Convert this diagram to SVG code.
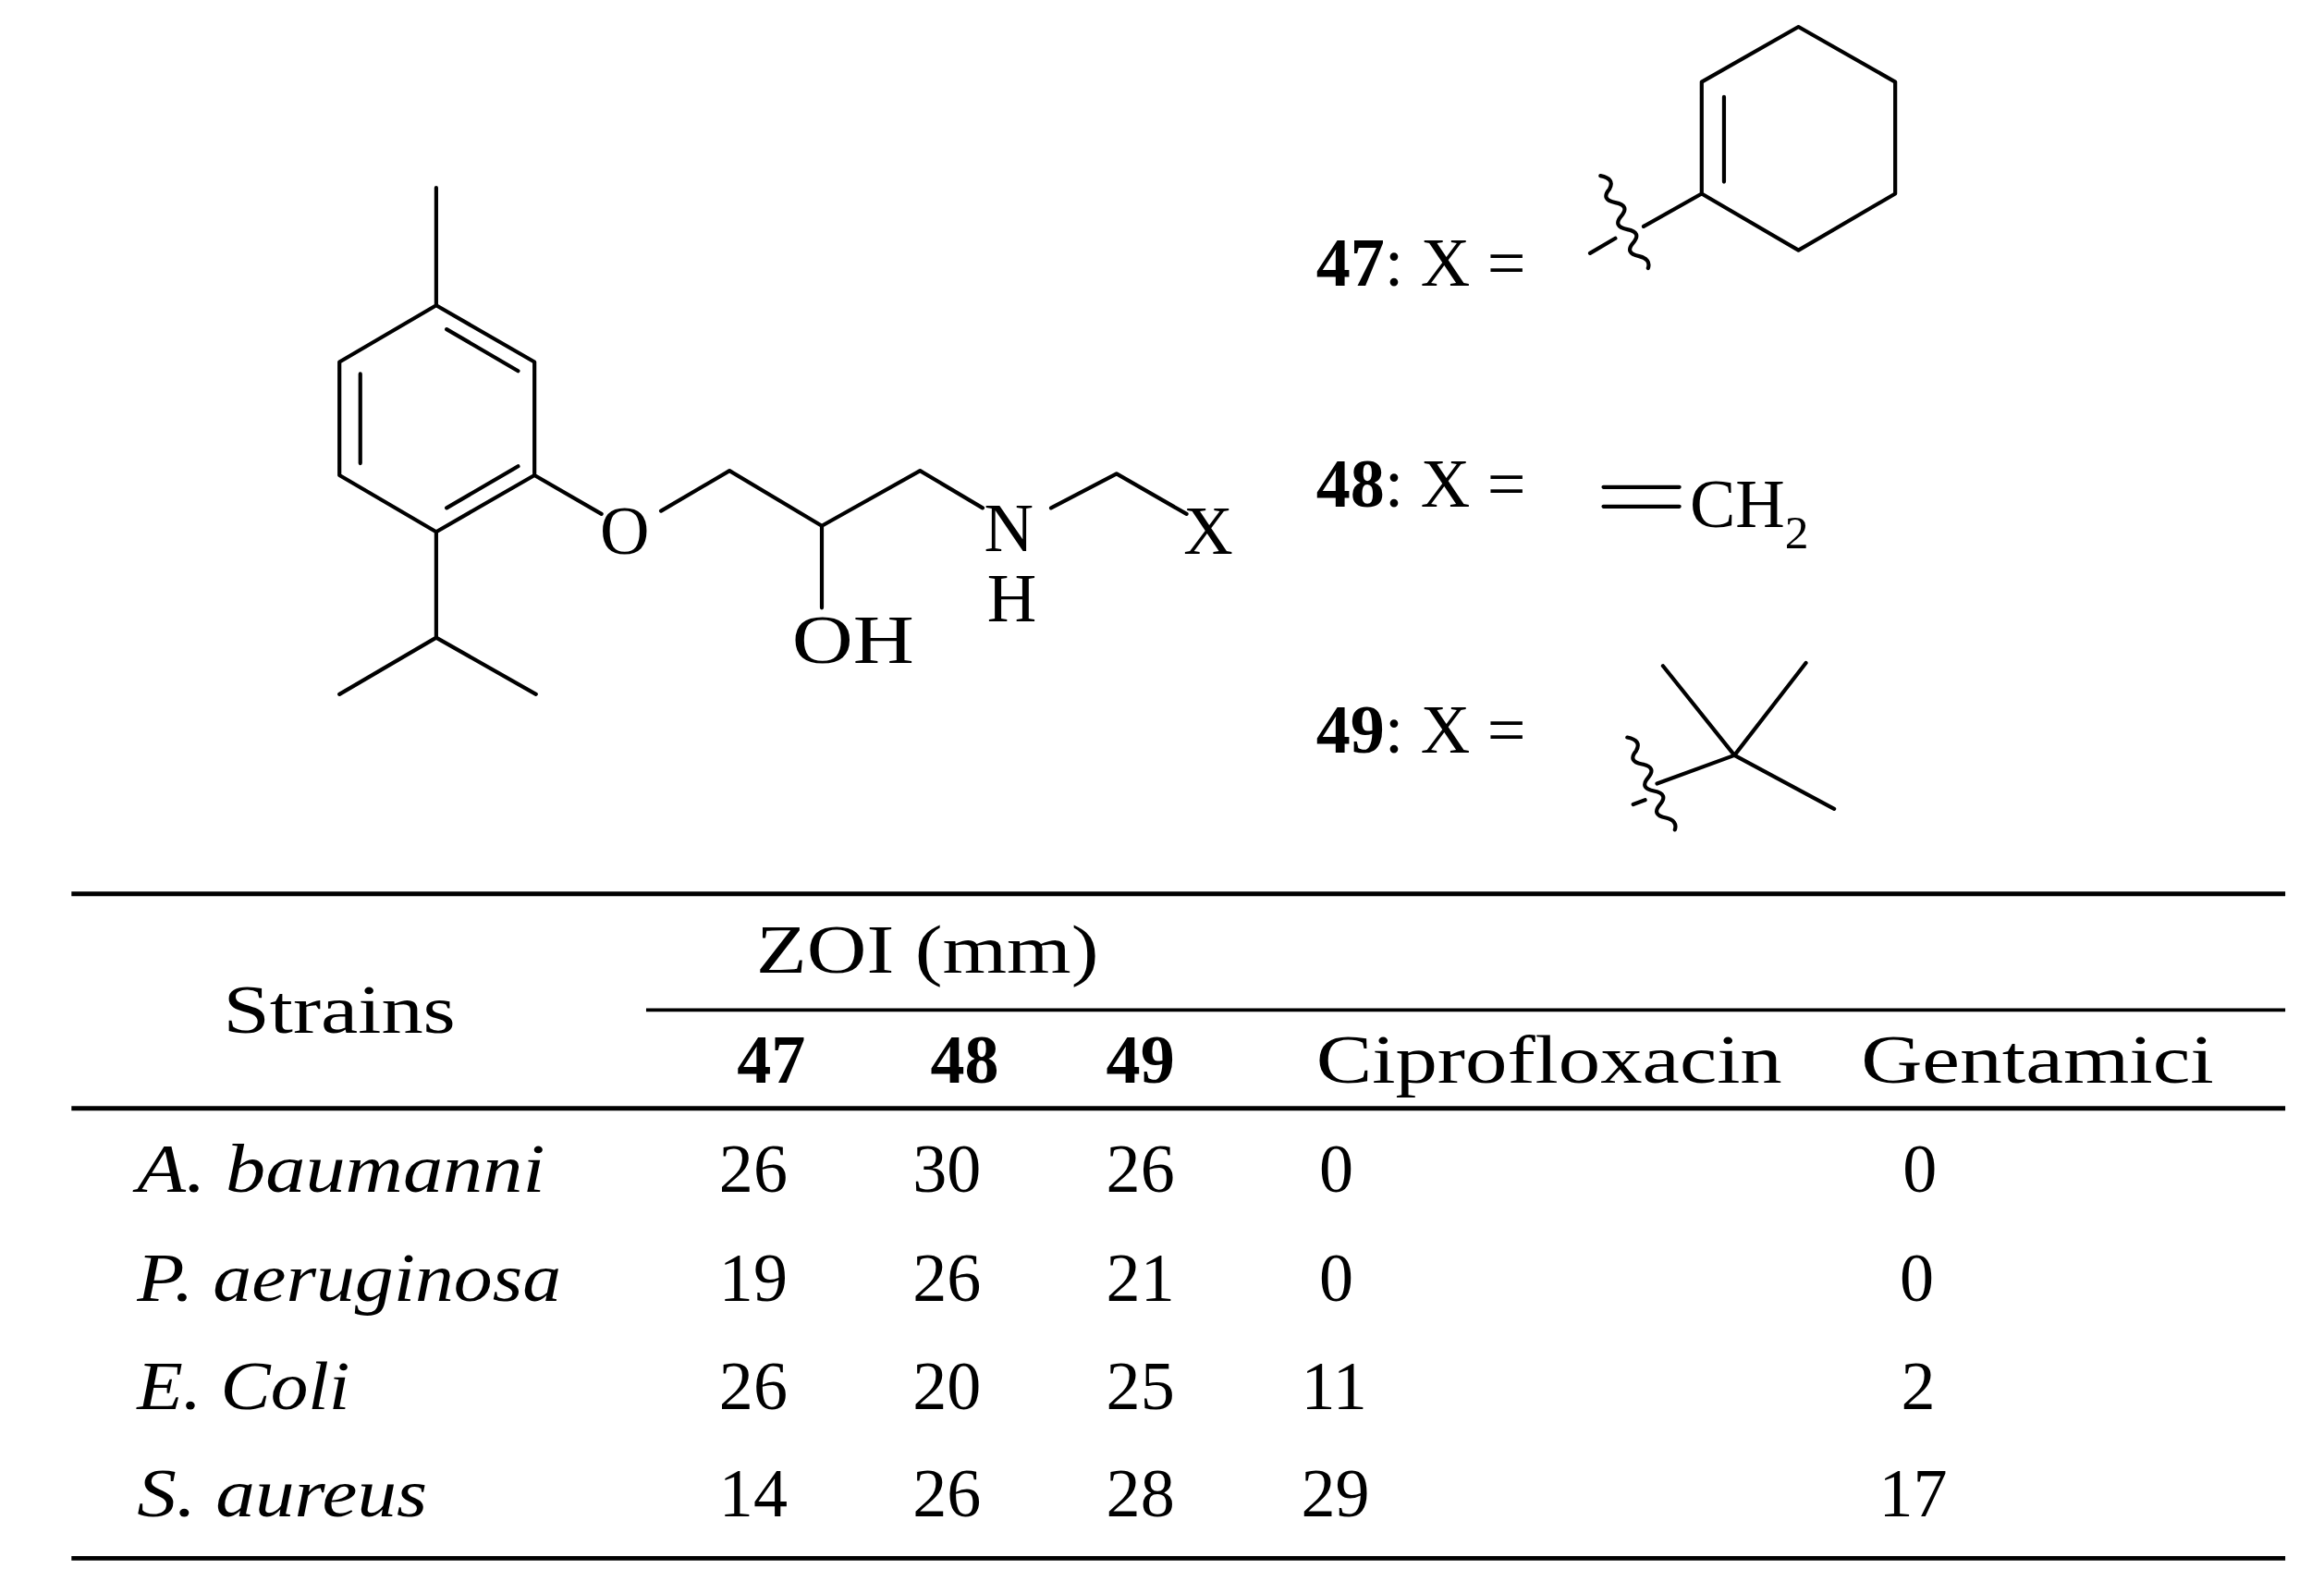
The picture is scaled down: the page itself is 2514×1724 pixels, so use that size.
<svg xmlns="http://www.w3.org/2000/svg" width="2514" height="1724" viewBox="0 0 2514 1724">
<style>
.b{fill:none;stroke:#000;stroke-width:2.6;stroke-linecap:round;stroke-linejoin:round}
.t{font-family:"Liberation Serif",serif;font-size:46px;fill:#000}
.bd{font-weight:bold}
.it{font-style:italic}
.r{stroke:#000;stroke-width:3}
</style>
<rect width="2514" height="1724" fill="#fff"/>
<g transform="scale(1.6105,1.6112)">
<g id="molecule">
<path class="b" d="M293,205 L359,243 L359,319 L293,357 L228,319 L228,243 Z M293,205 L293,126 M300,221 L348,249 M242,251 L242,311 M300,341 L348,313 M293,357 L293,428 L228,466 M293,428 L360,466 M359,319 L404,345 M444,343 L490,316 L552,353 L618,316 L660,341 M706,341 L750,318 L797,345 M552,353 L552,408"/>
<text class="t" x="403" y="372">O</text>
<text class="t" x="661" y="370">N</text>
<text class="t" x="663" y="417">H</text>
<text class="t" x="532" y="445" textLength="82" lengthAdjust="spacingAndGlyphs">OH</text>
<text class="t" x="795" y="372">X</text>
</g>
<g id="label47">
<text class="t" x="884" y="192"><tspan class="bd">47</tspan>: X =</text>
<path class="b" d="M1143,55 L1208,18 L1273,55 L1273,130 L1208,168 L1143,130 Z M1158,65 L1158,122 M1143,130 L1104,152 M1068,170 L1085,160 M1075,118 q10,2 6,9 q-6,7 4,9 q10,2 4,9 q-6,7 4,9 q10,2 4,9 q-6,7 4,9 q8,2 6,8"/>
</g>
<g id="label48">
<text class="t" x="884" y="340"><tspan class="bd">48</tspan>: X =</text>
<path class="b" d="M1077,327 L1128,327 M1077,340 L1128,340"/>
<text class="t" x="1135" y="354">CH<tspan font-size="32" dy="14">2</tspan></text>
</g>
<g id="label49">
<text class="t" x="884" y="505"><tspan class="bd">49</tspan>: X =</text>
<path class="b" d="M1165,507 L1117,447 M1165,507 L1213,445 M1165,507 L1232,543 M1165,507 L1113,526 M1097,540 L1105,537 M1093,495 q10,2 6,9 q-6,7 4,9 q10,2 4,9 q-6,7 4,9 q10,2 4,9 q-6,7 4,9 q8,2 6,8"/>
</g>
<g id="table">
<line class="r" x1="48" y1="600" x2="1535" y2="600"/>
<line x1="434" y1="678" x2="1535" y2="678" stroke="#000" stroke-width="2.2"/>
<line class="r" x1="48" y1="744" x2="1535" y2="744"/>
<line class="r" x1="48" y1="1046" x2="1535" y2="1046"/>
<text class="t" x="150" y="693" textLength="156" lengthAdjust="spacingAndGlyphs">Strains</text>
<text class="t" x="508" y="653" textLength="230" lengthAdjust="spacingAndGlyphs">ZOI (mm)</text>
<text class="t bd" x="495" y="727">47</text>
<text class="t bd" x="625" y="727">48</text>
<text class="t bd" x="743" y="727">49</text>
<text class="t" x="884" y="727" textLength="313" lengthAdjust="spacingAndGlyphs">Ciprofloxacin</text>
<text class="t" x="1250" y="727" textLength="237" lengthAdjust="spacingAndGlyphs">Gentamici</text>
<text class="t it" x="92" y="800" textLength="274" lengthAdjust="spacingAndGlyphs">A. baumanni</text>
<text class="t it" x="92" y="873" textLength="285" lengthAdjust="spacingAndGlyphs">P. aeruginosa</text>
<text class="t it" x="92" y="946" textLength="143" lengthAdjust="spacingAndGlyphs">E. Coli</text>
<text class="t it" x="92" y="1018" textLength="195" lengthAdjust="spacingAndGlyphs">S. aureus</text>
<g class="t">
<text x="483" y="800">26</text><text x="613" y="800">30</text><text x="743" y="800">26</text><text x="886" y="800">0</text><text x="1278" y="800">0</text>
<text x="483" y="873">19</text><text x="613" y="873">26</text><text x="743" y="873">21</text><text x="886" y="873">0</text><text x="1276" y="873">0</text>
<text x="483" y="946">26</text><text x="613" y="946">20</text><text x="743" y="946">25</text><text x="874" y="946">11</text><text x="1277" y="946">2</text>
<text x="483" y="1018">14</text><text x="613" y="1018">26</text><text x="743" y="1018">28</text><text x="874" y="1018">29</text><text x="1262" y="1018">17</text>
</g>
</g>
</g>
</svg>
